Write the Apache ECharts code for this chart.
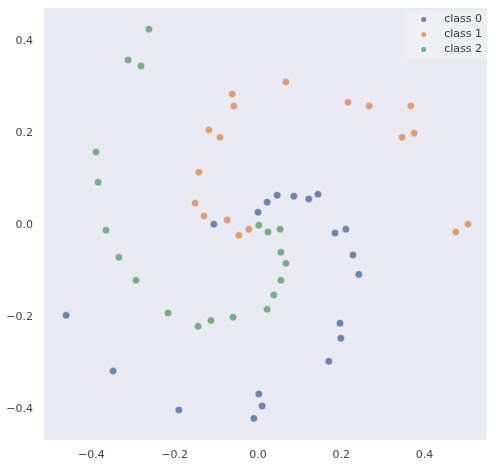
<!DOCTYPE html>
<html>
<head>
<meta charset="utf-8">
<script src="https://cdn.jsdelivr.net/npm/echarts@6/dist/echarts.min.js"></script>
<style>
  html, body { margin: 0; padding: 0; background: #fff; }
  #chart { width: 496px; height: 468px; }
</style>
</head>
<body>
<div id="chart"></div>
<script>
// values
const classNames = ['class 0', 'class 1', 'class 2'];
const classColors = ['#4f6a9c', '#d98a5c', '#5f9a70'];

const class0X = [-0.461, -0.348, -0.190, -0.010, 0.010, 0.002, 0.170, 0.199, 0.197, 0.242,
  0.228, 0.211, 0.185, 0.144, 0.122, 0.086, 0.046, 0.022, 0.000, -0.106];
const class0Y = [-0.196, -0.317, -0.402, -0.420, -0.393, -0.367, -0.296, -0.246, -0.213, -0.107,
  -0.065, -0.009, -0.017, 0.067, 0.057, 0.063, 0.065, 0.050, 0.028, 0.002];

const class1X = [0.067, -0.062, -0.058, -0.118, -0.091, -0.142, -0.151, -0.130, -0.074, -0.046,
  -0.022, 0.216, 0.267, 0.367, 0.346, 0.375, 0.504, 0.475];
const class1Y = [0.311, 0.285, 0.259, 0.207, 0.191, 0.115, 0.048, 0.020, 0.011, -0.022,
  -0.009, 0.267, 0.259, 0.259, 0.191, 0.200, 0.002, -0.015];

const class2X = [-0.262, -0.312, -0.281, -0.389, -0.384, -0.365, -0.334, -0.293, -0.216, -0.144,
  -0.113, -0.060, 0.022, 0.038, 0.055, 0.067, 0.055, 0.053, 0.024, 0.002];
const class2Y = [0.426, 0.359, 0.346, 0.159, 0.093, -0.011, -0.070, -0.120, -0.191, -0.220,
  -0.207, -0.200, -0.183, -0.152, -0.120, -0.083, -0.059, -0.009, -0.015, 0.000];

const xTicks = [-0.4, -0.2, 0.0, 0.2, 0.4];
const yTicks = [-0.4, -0.2, 0.0, 0.2, 0.4];

const pointsX = [class0X, class1X, class2X];
const pointsY = [class0Y, class1Y, class2Y];

function tickLabel(v) {
  return v.toFixed(1).replace('-', '\u2212');
}

const chart = echarts.init(document.getElementById('chart'));

chart.setOption({
  animation: false,
  backgroundColor: '#ffffff',
  textStyle: { fontFamily: 'DejaVu Sans' },
  grid: {
    left: 44, right: 9, top: 8, bottom: 28,
    show: true,
    backgroundColor: '#eaeaf2',
    borderWidth: 0
  },
  legend: {
    right: 10, top: 10,
    orient: 'vertical',
    itemGap: 4,
    itemWidth: 7, itemHeight: 7,
    icon: 'circle',
    backgroundColor: 'rgba(240,240,246,0.9)',
    padding: [4, 4, 4, 14],
    textStyle: { fontSize: 11, color: '#3a3a3a', padding: [0, 0, 0, 12] },
    data: classNames
  },
  xAxis: {
    type: 'value',
    min: -0.514, max: 0.55,
    axisLine: { show: false },
    axisTick: { show: false },
    splitLine: { show: false },
    axisLabel: {
      customValues: xTicks,
      formatter: tickLabel,
      color: '#444', fontSize: 11, margin: 10
    }
  },
  yAxis: {
    type: 'value',
    min: -0.467, max: 0.472,
    axisLine: { show: false },
    axisTick: { show: false },
    splitLine: { show: false },
    axisLabel: {
      customValues: yTicks,
      formatter: tickLabel,
      color: '#444', fontSize: 11, margin: 11
    }
  },
  series: classNames.map((name, i) => ({
    name: name,
    type: 'scatter',
    symbolSize: 7.5,
    itemStyle: {
      color: classColors[i],
      borderColor: '#ffffff',
      borderWidth: 0.6
    },
    data: pointsX[i].map((x, j) => [x, pointsY[i][j]])
  }))
});
</script>
</body>
</html>
